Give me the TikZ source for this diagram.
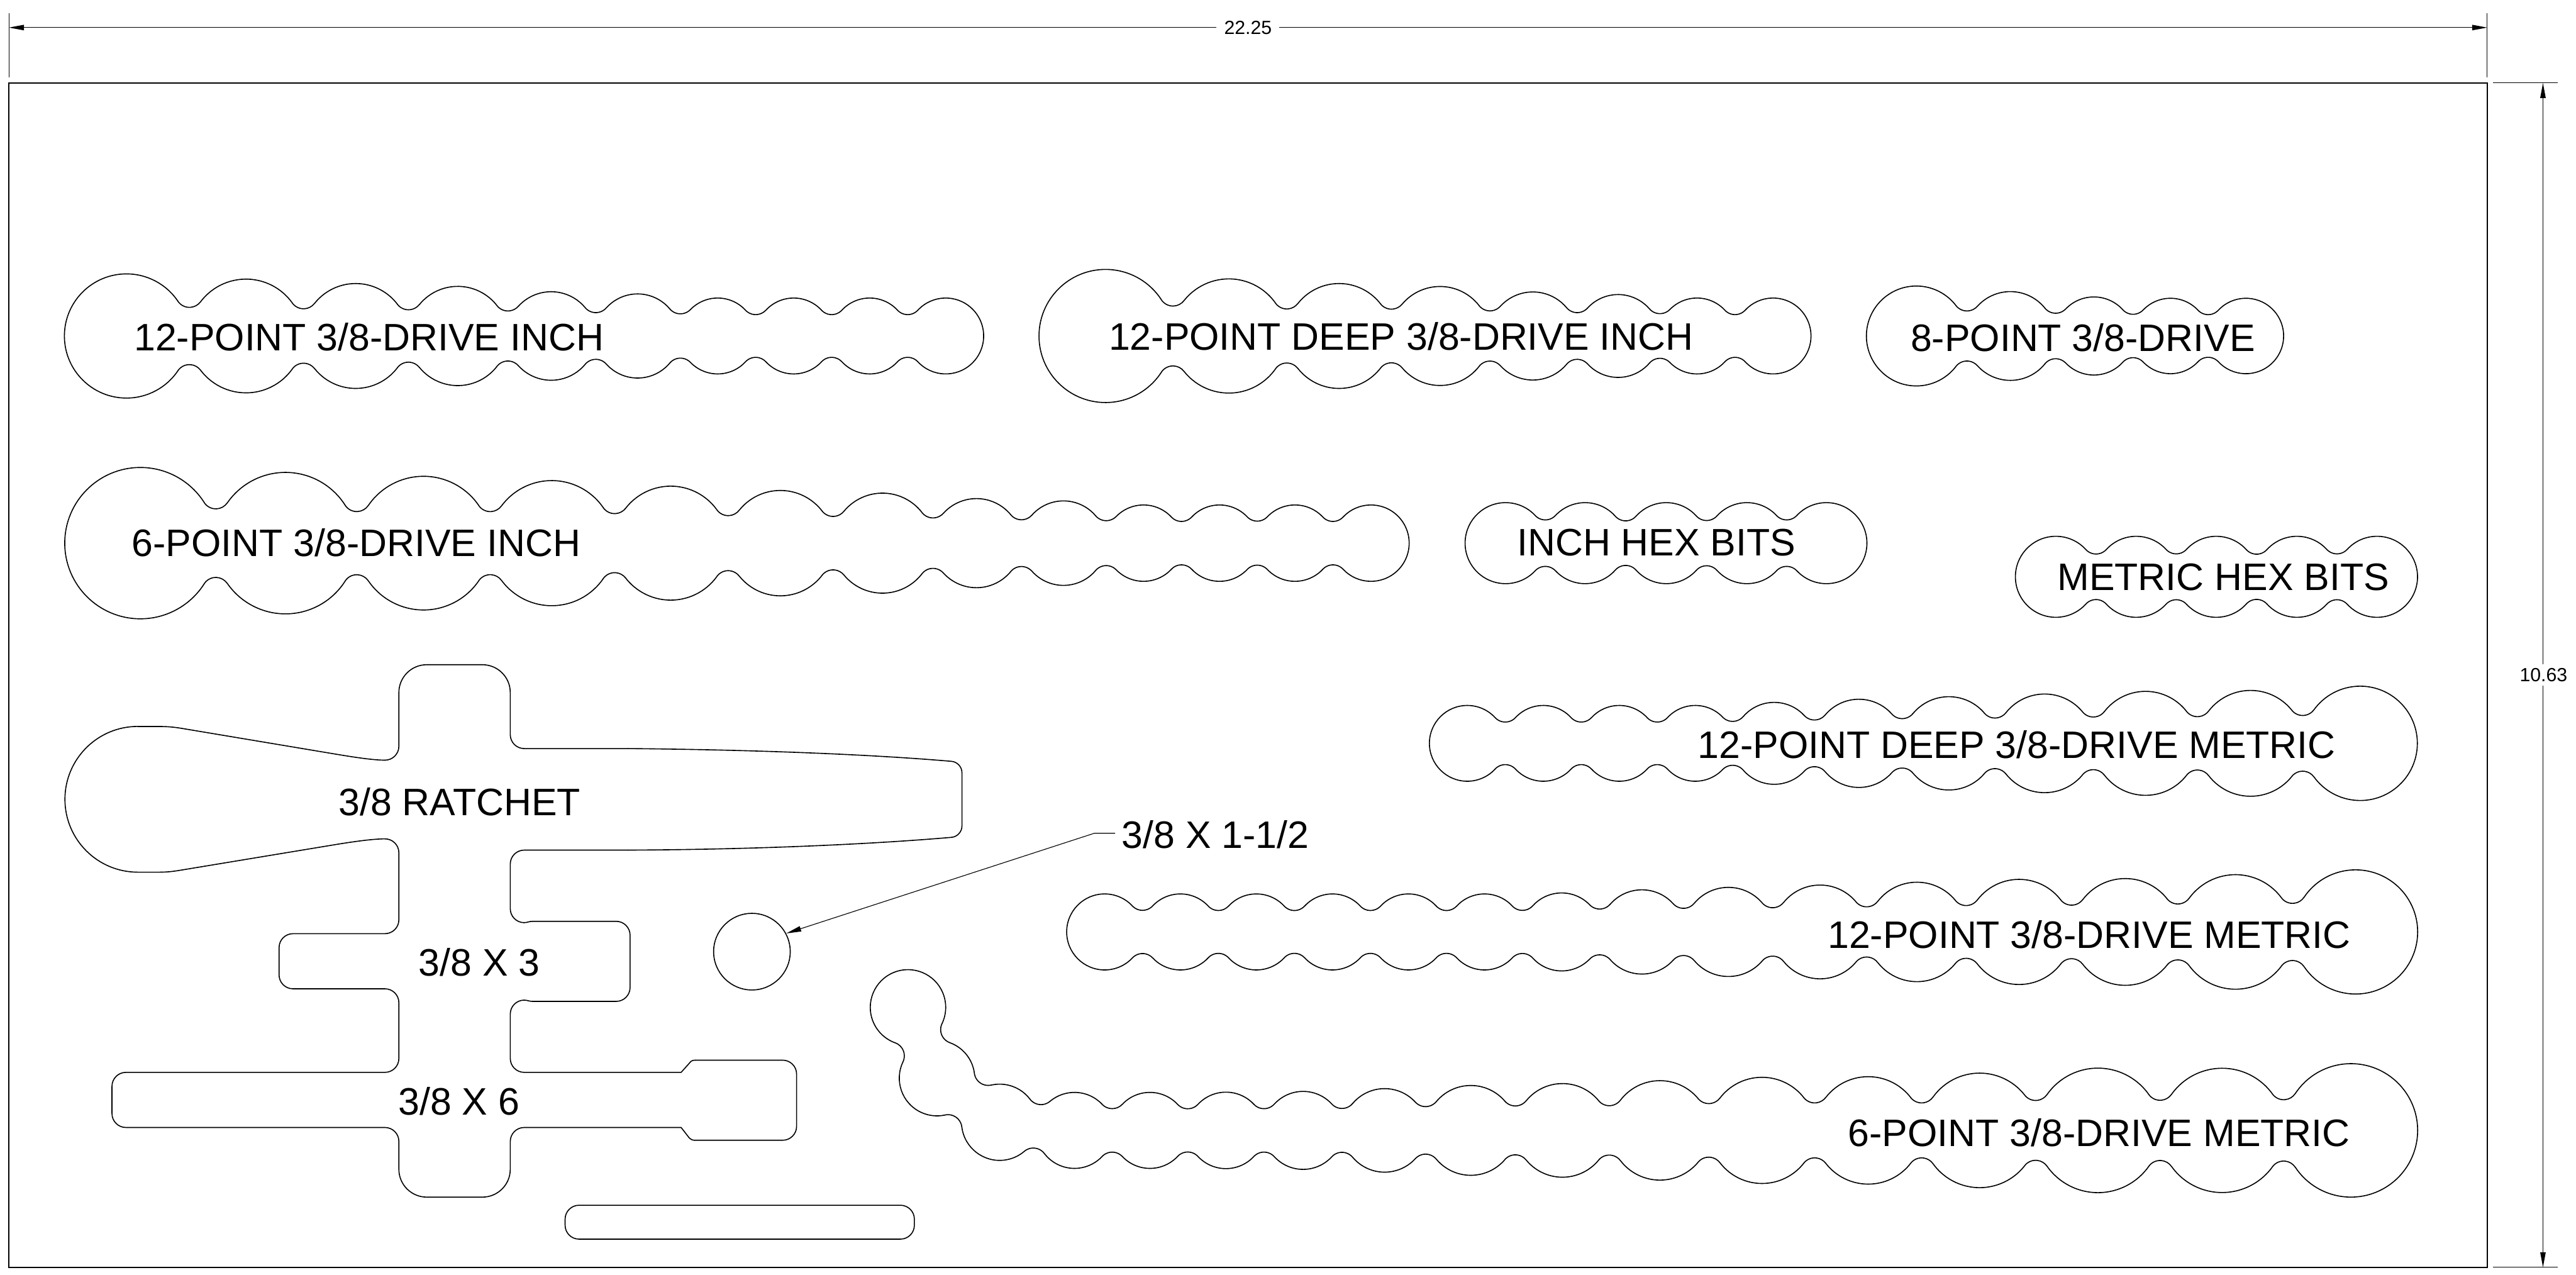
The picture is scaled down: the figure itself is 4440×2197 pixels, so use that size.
\documentclass[tikz,border=0pt]{standalone}
\usepackage{fontspec}
\setmainfont{Liberation Sans}
\usetikzlibrary{arrows.meta}
\tikzset{
    cutline/.style={black,line width=0.5pt,line cap=round,line join=round},
    cutround/.style={cutline,rounded corners=2.4mm},
    frameline/.style={black,line width=0.55pt},
    dimline/.style={black,line width=0.35pt},
    dimtip/.style={{Triangle[length=2.6mm,width=0.93mm]}-},
    bigtext/.style={font=\fontsize{18.75pt}{20pt}\selectfont,inner sep=0pt,yshift=-0.2mm},
    dimtext/.style={font=\fontsize{9.33pt}{11pt}\selectfont,inner xsep=1.25mm,inner ysep=0.65mm},
    socketdisc/.style={cutline,draw,circle,minimum size=1.32cm,inner sep=0pt},
}
\def\filletr{24}
% one side of a row of circles x/y/r, sign 1 over the row, -1 under it
\newcommand{\lobeside}[2]{%
\foreach \cx/\cy/\cr [count=\ci] in {#2} {
    \ifnum\ci>1
        \pgfmathsetmacro{\dx}{(\cx-\lastx)*0.01}
        \pgfmathsetmacro{\dy}{(\lasty-\cy)*0.01}
        \pgfmathsetmacro{\dd}{sqrt(\dx*\dx+\dy*\dy)}
        \pgfmathsetmacro{\dirn}{atan2(\dy,\dx)}
        \pgfmathsetmacro{\ra}{(\lastr+\filletr)*0.01}
        \pgfmathsetmacro{\rb}{(\cr+\filletr)*0.01}
        \pgfmathsetmacro{\tha}{\dirn+(#1)*acos((\dd*\dd+\ra*\ra-\rb*\rb)/(2*\dd*\ra))}
        \pgfmathsetmacro{\thb}{atan2(\ra*sin(\tha)-\dy,\ra*cos(\tha)-\dx)}
        \ifnum\ci=2 \pgfmathsetmacro{\thprev}{\dirn+180}\else \let\thprev\lastth\fi
        \pgfmathsetmacro{\swa}{mod((#1)*(\thprev-\tha)+720,360)}
        \draw[cutline] (\lastx,\lasty) ++(\thprev:{\lastr*0.01cm})
            arc[start angle=\thprev,delta angle={-1*(#1)*\swa},radius={\lastr*0.01cm}];
        \pgfmathsetmacro{\fx}{\lastx+100*\ra*cos(\tha)}
        \pgfmathsetmacro{\fy}{\lasty-100*\ra*sin(\tha)}
        \pgfmathsetmacro{\swb}{mod((#1)*(\thb-\tha)+720,360)}
        \draw[cutline] (\fx,\fy) ++(\tha+180:{\filletr*0.01cm})
            arc[start angle=\tha+180,delta angle={(#1)*\swb},radius={\filletr*0.01cm}];
        \xdef\lastth{\thb}
        \xdef\lastdir{\dirn}
    \fi
    \xdef\lastx{\cx}
    \xdef\lasty{\cy}
    \xdef\lastr{\cr}
}
\pgfmathsetmacro{\swa}{mod((#1)*(\lastth-\lastdir)+720,360)}
\draw[cutline] (\lastx,\lasty) ++(\lastth:{\lastr*0.01cm})
    arc[start angle=\lastth,delta angle={-1*(#1)*\swa},radius={\lastr*0.01cm}];
}
\newcommand{\lobeslot}[1]{\lobeside{1}{#1}\lobeside{-1}{#1}}

\begin{document}
\begin{tikzpicture}[x=0.01cm,y=-0.01cm]
\useasboundingbox (0,0) rectangle (4440,2197);
% frame and dimensions
\draw[frameline] (15.3,143) rectangle (4287,2184);
\draw[dimline] (15.3,23) -- (15.3,133);
\draw[dimline] (4287,23) -- (4287,133);
\draw[dimline] (4297,143) -- (4408,143);
\draw[dimline] (4297,2184) -- (4408,2184);
\node[dimtext] (widthlabel) at (2151,47.5) {22.25};
\node[dimtext] (heightlabel) at (4384,1163) {10.63};
\coordinate (widthleft) at (15.3,47.5);
\coordinate (widthright) at (4287,47.5);
\coordinate (heighttop) at (4383,143);
\coordinate (heightbottom) at (4383,2184);
\draw[dimline,dimtip] (widthleft) -- (widthlabel.west);
\draw[dimline,dimtip] (widthright) -- (widthlabel.east);
\draw[dimline,dimtip] (heighttop) -- (heightlabel.north -| heighttop);
\draw[dimline,dimtip] (heightbottom) -- (heightlabel.south -| heightbottom);
% inch sockets
\lobeslot{218/579/107,424/579/98,613/579/90.4,789/579/85.5,950/579/76.3,1099/579/72.5,
    1237/579/65.4,1368/579/65.4,1499/579/65.4,1630/579/65.4}
\lobeslot{1905.5/579/114.7,2118/579/98.4,2308/579/90.4,2482/579/85.3,2642/579/75.9,
    2789/579/71.4,2925/579/65.4,3056/579/65.4}
\lobeslot{3303/579/86.1,3465/579/76.5,3609/579/67.3,3741/579/65,3871/579/65}
\lobeslot{242/936/130.4,492/936/121.9,730/936/115.2,951/936/107.8,1156/936/98.2,1345/936/90.8,
    1521/936/86.2,1683/936/76.8,1833/936/72.8,1971/936/65.8,2102/936/65.8,2232/936/65.8,2363/936/65.8}
% hex bits
\lobeslot{2595/936/69.8,2732/936/69.8,2872/936/69.8,3011/936/69.8,3148/936/69.8}
\lobeslot{3543.5/994/69.8,3682/994/69.8,3820/994/69.8,3959/994/69.8,4097/994/69.8}
% metric sockets
\lobeslot{2529/1281/65.3,2660/1281/65.3,2791/1281/65.3,2922/1281/65.3,3058/1281/70.6,3204/1281/76,
    3359/1281/80.4,3524/1281/85,3698/1281/89.6,3879/1281/91.2,4068/1281/98.5}
\lobeslot{1904/1606/65.5,2034.5/1606/65.5,2165.5/1606/65.5,2296.6/1606/65.5,2427.6/1606/65.5,
    2558.7/1606/65.5,2691.7/1606/67.2,2830/1606/72.6,2979/1606/76.8,3137/1606/80.8,3304/1606/85.7,
    3480/1606/90.6,3663/1606/92,3853/1606/98.7,4060/1606/107}
\lobeslot{1565/1736/65,1615/1858/65,1723/1934/65.7,1852/1948/65.5,1982/1948/65.5,2113/1948/65.9,
    2246/1948/67.2,2386.5/1948/72,2535/1948/77.4,2693/1948/80.7,2861/1948/85.7,3037/1948/91.5,
    3220/1948/92.6,3412/1948/98.7,3616/1948/107.3,3830/1948/107.1,4052/1948/115}
% ratchet and extensions in one pocket, curves kept apart from the rounded runs
\draw[cutline] (237.5,1252) -- (275,1252)
    .. controls (290,1252) and (301,1253.2) .. (312,1255) -- (569,1298)
    .. controls (600,1303.2) and (640,1310) .. (664,1310);
\draw[cutround] (664,1310) -- (687.5,1310)
    [rounded corners=4.8mm] -- (687.5,1145.5) -- (879.5,1145.5)
    [rounded corners=2.4mm] -- (879.5,1290) -- (1082,1290);
\draw[cutline] (1082,1290) .. controls (1300,1292) and (1500,1300) .. (1640,1312);
\draw[cutline,rounded corners=1.8mm] (1640,1312) -- (1658,1313.5) -- (1658,1441.5) -- (1640,1443);
\draw[cutline] (1640,1443) .. controls (1500,1455) and (1300,1464) .. (1082,1465);
\draw[cutround] (1082,1465) -- (879.5,1465) -- (879.5,1590) -- (903,1590);
\draw[cutline] (903,1590) .. controls (909,1590) and (912,1587.7) .. (918,1587.7);
\draw[cutround] (918,1587.7) -- (1086,1587.7) -- (1086,1725.7) -- (918,1725.7);
\draw[cutline] (918,1725.7) .. controls (912,1725.7) and (909,1723.5) .. (903,1723.5);
\draw[cutround] (903,1723.5) -- (879.5,1723.5) -- (879.5,1848) -- (1174,1848);
\draw[cutline] (1174,1848) -- (1191,1829) .. controls (1193,1827.5) and (1195,1827) .. (1198,1827);
\draw[cutround] (1198,1827) -- (1373,1827) -- (1373,1965) -- (1197,1965);
\draw[cutline] (1197,1965) .. controls (1193,1965) and (1190,1963) .. (1188,1961) -- (1174,1943);
\draw[cutround] (1174,1943) -- (879.5,1943)
    [rounded corners=4.8mm] -- (879.5,2063) -- (687.5,2063)
    [rounded corners=2.4mm] -- (687.5,1943) -- (193,1943) -- (193,1848) -- (687.5,1848) -- (687.5,1704)
    -- (481,1704) -- (481,1609) -- (687.5,1609) -- (687.5,1445.6) -- (664,1445.6);
\draw[cutline] (664,1445.6) .. controls (640,1445.6) and (600,1451.8) .. (569,1457) -- (312,1499.5)
    .. controls (301,1501.3) and (290,1503) .. (275,1503) -- (237.5,1503)
    arc[start angle=270,end angle=90,radius=1.255cm];
% small pockets
\draw[cutround] (974,2077) rectangle (1576,2135.4);
\node[socketdisc] (socket) at (1296,1640) {};
% labels
\node[bigtext] (twelveinch) at (636,579) {12-POINT 3/8-DRIVE INCH};
\node[bigtext] (deepinch) at (2415,578) {12-POINT DEEP 3/8-DRIVE INCH};
\node[bigtext] (eightpoint) at (3590,580) {8-POINT 3/8-DRIVE};
\node[bigtext] (sixinch) at (614,933) {6-POINT 3/8-DRIVE INCH};
\node[bigtext] (inchhex) at (2855,933) {INCH HEX BITS};
\node[bigtext] (metrichex) at (3832,993) {METRIC HEX BITS};
\node[bigtext] (deepmetric) at (3476,1281) {12-POINT DEEP 3/8-DRIVE METRIC};
\node[bigtext] (twelvemetric) at (3601,1608) {12-POINT 3/8-DRIVE METRIC};
\node[bigtext] (sixmetric) at (3618,1950) {6-POINT 3/8-DRIVE METRIC};
\node[bigtext] (ratchet) at (792,1380) {3/8 RATCHET};
\node[bigtext] (threeext) at (826,1656) {3/8 X 3};
\node[bigtext] (sixext) at (791,1896) {3/8 X 6};
\node[bigtext] (shortext) at (2095,1436) {3/8 X 1-1/2};
% leader
\coordinate (leaderknee) at (1886,1436);
\coordinate (leaderend) at (1922,1436);
\draw[dimline,dimtip] (socket.28) -- (leaderknee) -- (leaderend);
\end{tikzpicture}
\end{document}
